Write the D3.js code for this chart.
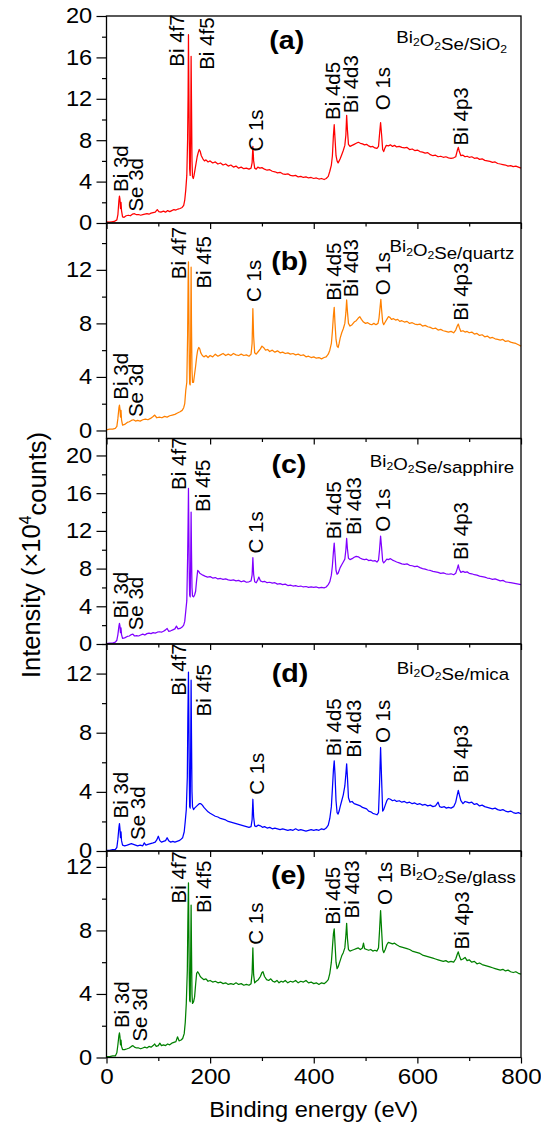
<!DOCTYPE html>
<html>
<head>
<meta charset="utf-8">
<script src="https://cdn.jsdelivr.net/npm/d3@7"></script>
<style>
body { margin: 0; background: #fff; }
text { font-family: "Liberation Sans", Arial, sans-serif; fill: #000; }
</style>
</head>
<body>
<div id="chart"></div>
<script>
// XPS survey spectra of Bi2O2Se grown on five substrates

// x axis (binding energy, eV)
var energyTicks = [0, 200, 400, 600, 800];
var energyMinor = [100, 300, 500, 700];

// one entry per panel
var panelIds = ["(a)", "(b)", "(c)", "(d)", "(e)"];
var substrates = ["Bi_2O_2Se/SiO_2", "Bi_2O_2Se/quartz", "Bi_2O_2Se/sapphire", "Bi_2O_2Se/mica", "Bi_2O_2Se/glass"];
var yMin = [0, -0.6, 0, 0, 0];
var yMax = [20, 15.5, 21.8, 14, 13];
var yMajor = [[0, 4, 8, 12, 16, 20], [0, 4, 8, 12], [0, 4, 8, 12, 16, 20], [0, 4, 8, 12], [0, 4, 8, 12]];
var yMinor = [[2, 6, 10, 14, 18], [2, 6, 10, 14], [2, 6, 10, 14, 18], [2, 6, 10, 14], [2, 6, 10]];

// spectra: [binding energy (eV), intensity (x10^4 counts)]
var spectrumSiO2 = [[0,0.1],[5,0.08],[10,0.12],[15,0.15],[20,0.3],[22,0.8],[24,2.2],[25,2.6],[26,2.3],[27,1.4],[28,2.0],[29,1.2],[31,0.6],[34,0.55],[38,0.7],[42,0.75],[46,0.7],[50,0.85],[54,0.9],[58,0.8],[62,0.82],[66,0.75],[70,0.8],[74,0.85],[78,0.9],[82,0.85],[86,0.95],[90,1.0],[94,1.05],[98,1.3],[101,1.1],[105,1.05],[110,1.15],[114,1.05],[118,1.2],[122,1.1],[126,1.2],[130,1.3],[134,1.25],[138,1.35],[142,1.4],[146,1.5],[149,1.7],[151,2.2],[153,3.2],[155,4.6],[156.5,8],[157.5,12.5],[158.2,18.2],[159,13],[159.8,8],[160.5,5.2],[161.5,4.6],[162.5,8.5],[163.3,16.1],[164,12],[165,6],[166,4.5],[167.5,4.3],[169,4.6],[171,5.2],[173,5.8],[175,6.4],[177,6.8],[179,7.1],[181,6.9],[183,6.5],[186,6.2],[189,6.0],[192,6.1],[196,5.9],[200,6.0],[205,5.8],[210,5.9],[215,5.7],[220,5.8],[225,5.6],[230,5.7],[235,5.5],[240,5.6],[245,5.4],[250,5.5],[255,5.3],[260,5.4],[265,5.25],[270,5.3],[275,5.2],[279,5.3],[281,5.8],[282.5,7.4],[284,6.0],[286,5.3],[289,5.2],[292,5.4],[296,5.3],[300,5.35],[305,5.2],[310,5.1],[315,5.15],[320,5.0],[325,4.95],[330,4.85],[335,4.9],[340,4.75],[345,4.7],[350,4.75],[355,4.6],[360,4.55],[365,4.6],[370,4.45],[375,4.5],[380,4.4],[385,4.45],[390,4.35],[395,4.4],[400,4.3],[405,4.35],[410,4.25],[415,4.3],[420,4.2],[424,4.3],[428,4.5],[431,5.0],[434,5.6],[436,6.5],[438,8.5],[439.5,9.5],[441,8.2],[443,6.5],[445,6.0],[447,5.8],[449,6.0],[451,6.2],[454,6.6],[457,7.0],[460,7.5],[462,8.5],[463.5,10.4],[465,9.0],[467,7.6],[470,7.4],[474,7.5],[478,7.6],[482,7.7],[486,7.8],[490,7.7],[494,7.65],[498,7.55],[502,7.6],[506,7.45],[510,7.35],[514,7.4],[518,7.25],[522,7.2],[525,7.4],[527,8.6],[529,9.7],[531,8.5],[533,7.1],[535,6.9],[537,7.2],[540,7.5],[544,7.45],[548,7.55],[552,7.4],[556,7.5],[560,7.35],[565,7.4],[570,7.3],[575,7.25],[580,7.3],[585,7.1],[590,7.15],[595,7.0],[600,7.05],[605,6.9],[610,6.85],[615,6.75],[620,6.8],[625,6.6],[630,6.5],[635,6.55],[640,6.4],[645,6.45],[650,6.35],[655,6.4],[660,6.3],[665,6.25],[670,6.3],[674,6.4],[677,7.0],[679,7.3],[681,6.9],[684,6.5],[688,6.55],[692,6.4],[696,6.45],[700,6.35],[705,6.4],[710,6.25],[715,6.3],[720,6.15],[725,6.2],[730,6.05],[735,6.0],[740,5.95],[745,5.85],[750,5.9],[755,5.75],[760,5.7],[765,5.65],[770,5.6],[775,5.5],[780,5.55],[785,5.45],[790,5.5],[795,5.4],[800,5.3]];

var spectrumQuartz = [[0,0.05],[6,0.1],[12,0.1],[17,0.15],[20,0.3],[22,0.9],[24,1.7],[25,1.9],[26,1.6],[27,1.0],[28,1.5],[29,0.8],[31,0.4],[35,0.45],[40,0.6],[44,0.65],[48,0.75],[52,0.8],[56,0.7],[60,0.75],[65,0.7],[70,0.8],[75,0.85],[80,0.8],[85,0.9],[90,1.05],[93,1.15],[97,0.95],[102,1.0],[107,0.95],[112,1.05],[117,1.0],[122,1.1],[127,1.15],[132,1.2],[137,1.3],[142,1.4],[146,1.5],[149,1.7],[151,2.0],[153,3.0],[155,3.6],[156.5,7],[157.5,11],[158.2,12.6],[159,9],[159.8,5],[160.5,3.5],[161.5,3.4],[162.5,7],[163.3,12.2],[164,8],[165,4.5],[166,3.6],[168,3.6],[170,4.2],[172,4.8],[174,5.5],[176,6.0],[178,6.2],[180,6.1],[182,5.8],[185,5.6],[188,5.5],[192,5.6],[196,5.45],[200,5.6],[205,5.5],[210,5.7],[215,5.55],[220,5.65],[225,5.75],[230,5.6],[235,5.7],[240,5.6],[245,5.75],[250,5.65],[255,5.6],[260,5.7],[265,5.6],[270,5.65],[275,5.55],[279,5.7],[281,6.5],[282.5,9.1],[284,7.0],[286,5.8],[289,5.7],[293,5.9],[297,6.1],[300,6.3],[303,6.2],[307,6.0],[311,6.05],[315,5.9],[320,6.0],[325,5.85],[330,5.95],[335,5.8],[340,5.85],[345,5.75],[350,5.8],[355,5.7],[360,5.75],[365,5.65],[370,5.7],[375,5.6],[380,5.65],[385,5.5],[390,5.55],[395,5.45],[400,5.5],[405,5.4],[410,5.45],[415,5.35],[420,5.45],[424,5.5],[428,5.7],[431,6.0],[434,6.5],[436,7.4],[438,8.6],[439.5,9.2],[441,8.0],[443,6.8],[445,6.3],[447,6.2],[449,6.5],[451,6.9],[454,7.3],[457,7.6],[460,8.0],[462,8.8],[463.5,9.75],[465,8.9],[467,8.0],[470,7.8],[474,7.9],[478,8.1],[482,8.2],[486,8.4],[489,8.5],[492,8.3],[496,8.1],[500,8.0],[504,8.05],[508,7.95],[512,7.9],[516,8.0],[520,7.9],[524,8.0],[526,8.4],[528,9.2],[529.5,9.8],[531,9.0],[533,8.1],[535,7.9],[538,8.1],[541,8.3],[544,8.5],[547,8.45],[550,8.3],[554,8.35],[558,8.25],[562,8.3],[566,8.15],[570,8.2],[575,8.1],[580,8.15],[585,8.0],[590,8.05],[595,7.95],[600,7.9],[605,7.95],[610,7.8],[615,7.85],[620,7.75],[625,7.7],[630,7.6],[635,7.65],[640,7.5],[645,7.55],[650,7.45],[655,7.4],[660,7.35],[665,7.4],[670,7.3],[674,7.5],[677,7.8],[679,7.95],[681,7.7],[684,7.4],[688,7.45],[692,7.35],[696,7.4],[700,7.3],[705,7.35],[710,7.2],[715,7.25],[720,7.1],[725,7.15],[730,7.0],[735,7.05],[740,6.9],[745,6.95],[750,6.85],[755,6.8],[760,6.75],[765,6.8],[770,6.65],[775,6.7],[780,6.6],[785,6.55],[790,6.5],[795,6.4],[800,6.3]];

var spectrumSapphire = [[0,0.05],[6,0.1],[12,0.1],[17,0.2],[20,0.4],[22,1.0],[24,1.9],[25,2.2],[26,1.9],[27,1.2],[28,1.7],[29,1.0],[31,0.6],[35,0.65],[40,0.8],[44,0.85],[48,1.0],[51,1.05],[54,0.85],[58,0.9],[62,0.85],[66,0.95],[70,1.05],[74,0.95],[78,1.1],[82,1.15],[86,1.1],[90,1.2],[94,1.15],[98,1.25],[102,1.3],[106,1.25],[110,1.35],[114,1.5],[117,1.65],[120,1.35],[124,1.4],[128,1.5],[132,1.6],[135,1.9],[138,1.6],[142,1.65],[146,1.8],[149,2.0],[151,2.4],[153,3.5],[155,4.6],[156.5,9],[157.5,13],[158.2,16.5],[159,12],[159.8,7],[160.5,5.2],[161.5,5.0],[162.5,9],[163.3,14.0],[164,10],[165,6],[166,5.1],[168,5.0],[170,5.2],[172,5.6],[174,6.8],[176,7.8],[178,7.7],[180,7.5],[183,7.4],[186,7.3],[190,7.2],[195,7.1],[200,7.15],[205,7.0],[210,7.05],[215,6.9],[220,6.95],[225,6.85],[230,6.9],[235,6.8],[240,6.75],[245,6.8],[250,6.7],[255,6.75],[260,6.6],[265,6.7],[270,6.55],[275,6.6],[279,6.7],[281,7.3],[282.5,9.15],[284,7.4],[286,6.6],[289,6.5],[292,6.8],[294,7.1],[297,6.7],[301,6.6],[305,6.65],[310,6.5],[315,6.55],[320,6.45],[325,6.5],[330,6.35],[335,6.4],[340,6.3],[345,6.35],[350,6.2],[355,6.25],[360,6.15],[365,6.2],[370,6.1],[375,6.15],[380,6.05],[385,6.1],[390,6.0],[395,6.05],[400,6.0],[405,6.05],[410,5.95],[415,6.0],[420,5.95],[424,6.05],[428,6.3],[431,6.6],[434,7.3],[436,8.3],[438,9.8],[439.5,10.7],[441,9.5],[443,7.8],[445,7.4],[447,7.5],[449,7.8],[451,8.1],[454,8.4],[457,8.7],[460,9.0],[462,10.0],[463.5,11.2],[465,10.1],[467,9.1],[470,8.95],[474,9.05],[478,9.2],[482,9.3],[486,9.25],[490,9.1],[494,9.0],[498,8.95],[502,9.0],[506,8.85],[510,8.9],[514,8.8],[518,8.85],[522,8.7],[525,8.9],[527,10.0],[529,11.45],[531,10.2],[533,8.8],[535,8.6],[538,8.8],[541,9.0],[544,8.95],[548,9.05],[552,8.9],[556,8.8],[560,8.7],[565,8.6],[570,8.5],[575,8.45],[580,8.5],[585,8.35],[590,8.3],[595,8.2],[600,8.25],[605,8.1],[610,8.0],[615,7.95],[620,7.85],[625,7.8],[630,7.7],[635,7.65],[640,7.6],[645,7.5],[650,7.55],[655,7.45],[660,7.4],[665,7.45],[670,7.35],[674,7.5],[677,8.0],[679,8.4],[681,7.9],[684,7.6],[688,7.7],[692,7.6],[696,7.65],[700,7.5],[705,7.45],[710,7.35],[715,7.3],[720,7.2],[725,7.15],[730,7.1],[735,7.0],[740,6.95],[745,6.85],[750,6.9],[755,6.8],[760,6.7],[765,6.75],[770,6.6],[775,6.55],[780,6.5],[785,6.45],[790,6.4],[795,6.35],[800,6.3]];

var spectrumMica = [[0,0.05],[6,0.05],[12,0.1],[17,0.1],[20,0.25],[22,0.8],[24,1.6],[25,1.85],[26,1.5],[27,0.9],[28,1.3],[29,0.7],[31,0.4],[35,0.35],[40,0.4],[44,0.45],[48,0.5],[52,0.45],[56,0.4],[60,0.35],[65,0.4],[70,0.35],[73,0.55],[76,0.4],[80,0.45],[85,0.5],[90,0.55],[94,0.6],[97,0.75],[100,1.0],[103,0.7],[106,0.6],[110,0.65],[114,0.7],[117,0.9],[120,0.7],[124,0.6],[128,0.65],[132,0.6],[136,0.65],[140,0.7],[144,0.8],[147,0.9],[150,1.3],[152,2.0],[154,2.8],[156,5],[157,9],[158.2,12.1],[159,9],[159.8,5],[160.5,3.0],[161.5,2.9],[162.5,7],[163.3,11.55],[164,8],[165,4],[166,3.0],[168,2.8],[170,2.9],[173,3.0],[176,3.1],[179,3.2],[182,3.2],[185,3.1],[188,2.95],[192,2.8],[196,2.65],[200,2.55],[205,2.45],[210,2.35],[215,2.3],[220,2.2],[225,2.15],[230,2.1],[235,2.0],[240,1.95],[245,1.9],[250,1.85],[255,1.8],[260,1.75],[265,1.7],[270,1.65],[275,1.6],[279,1.65],[281,2.1],[282.5,3.5],[284,2.3],[286,1.7],[289,1.65],[293,1.75],[297,1.7],[301,1.6],[305,1.65],[310,1.55],[315,1.6],[320,1.5],[325,1.55],[330,1.5],[335,1.45],[340,1.5],[345,1.45],[350,1.4],[355,1.45],[360,1.4],[365,1.5],[370,1.4],[375,1.45],[380,1.4],[385,1.35],[390,1.4],[395,1.45],[400,1.4],[405,1.45],[410,1.4],[415,1.5],[420,1.45],[424,1.55],[428,1.75],[431,2.2],[434,3.0],[436,4.2],[438,5.5],[439.5,6.1],[441,5.2],[443,3.4],[445,2.6],[447,2.5],[449,2.7],[451,3.0],[454,3.4],[457,3.8],[460,4.4],[462,5.2],[463.5,5.9],[465,5.0],[467,3.6],[470,3.3],[474,3.35],[478,3.2],[482,3.15],[486,3.1],[490,3.05],[494,2.95],[498,2.9],[502,2.85],[506,2.7],[510,2.65],[514,2.55],[518,2.5],[522,2.45],[525,2.6],[527,4.5],[529,7.0],[531,4.8],[533,2.7],[535,2.8],[538,3.1],[541,3.4],[544,3.55],[548,3.5],[552,3.4],[556,3.45],[560,3.35],[565,3.4],[570,3.3],[575,3.35],[580,3.25],[585,3.3],[590,3.2],[595,3.25],[600,3.15],[605,3.2],[610,3.1],[615,3.15],[620,3.05],[625,3.1],[630,3.0],[635,3.05],[640,3.3],[643,3.0],[647,2.95],[652,3.0],[656,2.9],[660,2.95],[665,2.9],[670,3.0],[674,3.3],[677,3.8],[679,4.1],[681,3.8],[684,3.4],[688,3.2],[692,3.35],[696,3.3],[700,3.25],[705,3.3],[710,3.15],[715,3.2],[720,3.05],[725,3.1],[730,3.0],[735,2.95],[740,2.9],[745,2.85],[750,2.9],[755,2.8],[760,2.75],[765,2.8],[770,2.7],[775,2.65],[780,2.7],[785,2.6],[790,2.55],[795,2.6],[800,2.5]];

var spectrumGlass = [[0,0.05],[6,0.05],[12,0.1],[17,0.1],[20,0.3],[22,0.8],[24,1.4],[25,1.55],[26,1.3],[27,0.8],[28,1.1],[29,0.7],[31,0.5],[35,0.5],[40,0.55],[44,0.6],[48,0.7],[51,0.75],[54,0.65],[58,0.6],[62,0.6],[66,0.55],[70,0.6],[74,0.65],[78,0.6],[82,0.7],[86,0.65],[90,0.75],[93,0.85],[96,0.7],[100,0.75],[103,0.9],[106,0.75],[110,0.8],[114,0.75],[118,0.85],[122,0.8],[126,0.9],[130,0.95],[134,1.0],[137,1.3],[140,1.05],[144,1.1],[147,1.2],[150,1.5],[152,2.2],[154,3.4],[156,5.5],[157,8.5],[158.2,11.0],[159,8],[159.8,5],[160.5,3.6],[161.5,3.5],[162.5,6.5],[163.3,9.6],[164,7],[165,4],[166,3.4],[168,3.5],[170,3.8],[172,4.6],[174,5.3],[176,5.4],[178,5.3],[181,5.1],[184,5.0],[188,4.9],[192,4.95],[196,4.8],[200,4.85],[205,4.75],[210,4.8],[215,4.7],[220,4.75],[225,4.65],[230,4.7],[235,4.6],[240,4.65],[245,4.6],[250,4.7],[255,4.6],[260,4.65],[265,4.55],[270,4.6],[275,4.55],[279,4.65],[281,5.3],[282.5,6.9],[284,5.2],[286,4.7],[289,4.8],[293,4.9],[297,5.1],[300,5.35],[302,5.4],[305,5.1],[309,4.9],[313,4.85],[317,4.95],[321,4.8],[325,4.75],[329,4.85],[333,4.7],[337,4.8],[341,4.75],[345,4.85],[350,4.7],[355,4.8],[360,4.75],[365,4.85],[370,4.7],[375,4.8],[380,4.75],[385,4.85],[390,4.7],[395,4.75],[400,4.65],[405,4.7],[410,4.6],[415,4.7],[420,4.65],[424,4.75],[428,4.9],[431,5.3],[434,6.0],[436,6.9],[438,7.8],[439.5,8.1],[441,7.2],[443,6.0],[445,5.6],[447,5.7],[449,5.9],[451,6.1],[454,6.4],[457,6.6],[460,6.9],[462,7.7],[463.5,8.45],[465,7.5],[467,6.8],[470,6.7],[474,6.75],[478,6.8],[482,6.85],[486,6.9],[490,6.8],[494,6.9],[496,7.2],[498,6.85],[502,6.8],[506,6.75],[510,6.8],[514,6.7],[518,6.75],[522,6.7],[525,6.9],[527,8.0],[529,9.25],[531,8.0],[533,6.8],[535,6.6],[538,6.8],[541,7.1],[544,7.25],[548,7.2],[552,7.15],[556,7.2],[560,7.1],[565,7.0],[570,6.95],[575,6.9],[580,6.85],[585,6.8],[590,6.7],[595,6.65],[600,6.6],[605,6.55],[610,6.45],[615,6.4],[620,6.35],[625,6.3],[630,6.25],[635,6.2],[640,6.15],[645,6.1],[650,6.05],[655,6.1],[660,6.0],[665,6.05],[670,6.0],[674,6.2],[677,6.5],[679,6.65],[681,6.4],[684,6.15],[688,6.2],[692,6.3],[696,6.1],[700,6.15],[705,6.0],[710,6.05],[715,5.9],[720,5.95],[725,5.85],[730,5.8],[735,5.75],[740,5.7],[745,5.65],[750,5.6],[755,5.55],[760,5.5],[765,5.55],[770,5.45],[775,5.5],[780,5.4],[785,5.35],[790,5.4],[795,5.3],[800,5.25]];

var spectra = [spectrumSiO2, spectrumQuartz, spectrumSapphire, spectrumMica, spectrumGlass];

// peak labels, and where each one starts: [energy, intensity] per panel
var peakNames = ["Bi 3d", "Se 3d", "Bi 4f7", "Bi 4f5", "C 1s", "Bi 4d5", "Bi 4d3", "O 1s", "Bi 4p3"];
var peakSpotsA = [[27,3.0],[57,1.1],[135,15.1],[193,14.8],[287,6.9],[437,9.95],[472,10.6],[533,10.9],[683,7.5]];
var peakSpotsB = [[27,2.3],[57,1.0],[140,11.3],[187,10.6],[283,9.6],[439,9.7],[472,9.95],[533,10.1],[683,8.2]];
var peakSpotsC = [[27,2.7],[57,1.45],[140,16.35],[185,14.0],[287,9.6],[439,11.1],[477,11.55],[533,11.9],[683,8.9]];
var peakSpotsD = [[27,2.2],[60,0.75],[140,10.5],[187,9.1],[290,3.8],[439,6.4],[477,6.3],[533,7.3],[683,4.6]];
var peakSpotsE = [[30,1.85],[63,1.0],[140,9.7],[187,9.1],[287,7.1],[437,8.35],[473,8.75],[537,9.6],[685,6.8]];
var peakSpots = [peakSpotsA, peakSpotsB, peakSpotsC, peakSpotsD, peakSpotsE];

// panel letter [energy, intensity] and substrate note [right end energy, intensity]
var letterSpots = [[348,16.8],[353,12.0],[352,18.1],[354,11.4],[351,10.95]];
var noteSpots = [[773,17.4],[787,13.3],[787,18.8],[777,12.0],[790,11.4]];

var lineColors = ["#ff0000", "#ff8000", "#8000ff", "#0000ff", "#008000"];

// layout
var W = 541, H = 1129;
var plotLeft = 106.5, plotRight = 521;
var panelTop = [16, 223, 438.5, 644, 851];
var panelBottom = [223, 438.5, 644, 851, 1057.5];
var stretch = "scale(1.1,1)";   // the source figure is a bit wider than tall

var svg = d3.select("#chart").append("svg")
  .attr("width", W)
  .attr("height", H);

var x = d3.scaleLinear().domain([0, 800]).range([plotLeft, plotRight]);

var line = d3.line();

// write "Bi_2O_2Se" style text, _ puts the next character in subscript
function subText(sel, str) {
  var parts = str.split(/(_.)/).filter(function(p) { return p.length; });
  parts.forEach(function(p) {
    if (p[0] === "_") {
      sel.append("tspan").attr("font-size", "0.65em").attr("dy", "0.3em").text(p[1]);
      sel.append("tspan").attr("dy", "-0.3em").text("");
    } else {
      sel.append("tspan").text(p);
    }
  });
}

spectra.forEach(function(spec, i) {
  var y = d3.scaleLinear().domain([yMin[i], yMax[i]]).range([panelBottom[i], panelTop[i]]);
  var g = svg.append("g");
  var isLast = i === spectra.length - 1;

  // y axis: major + minor ticks
  var yAx = g.append("g")
    .attr("transform", "translate(" + plotLeft + ",0)")
    .call(d3.axisLeft(y).tickValues(yMajor[i]).tickSize(10).tickPadding(3).tickFormat(d3.format("d")));
  yAx.select(".domain").remove();
  yAx.selectAll("text").style("font-size", "21.5px").attr("font-family", null).attr("transform", stretch);
  yAx.selectAll("line").attr("stroke-width", 1.2);

  var yMin2 = g.append("g")
    .attr("transform", "translate(" + plotLeft + ",0)")
    .call(d3.axisLeft(y).tickValues(yMinor[i]).tickSize(4.5).tickFormat(""));
  yMin2.select(".domain").remove();
  yMin2.selectAll("line").attr("stroke-width", 1.2);

  // x axis: major + minor ticks, labels only at the bottom
  var xAx = g.append("g")
    .attr("transform", "translate(0," + panelBottom[i] + ")")
    .call(d3.axisBottom(x).tickValues(energyTicks).tickSize(6).tickPadding(5)
      .tickFormat(isLast ? d3.format("d") : ""));
  xAx.select(".domain").remove();
  xAx.selectAll("text").style("font-size", "22px").attr("font-family", null).attr("transform", stretch);
  xAx.selectAll("line").attr("stroke-width", 1.2);

  var xMin = g.append("g")
    .attr("transform", "translate(0," + panelBottom[i] + ")")
    .call(d3.axisBottom(x).tickValues(energyMinor).tickSize(3.5).tickFormat(""));
  xMin.select(".domain").remove();
  xMin.selectAll("line").attr("stroke-width", 1.2);

  // the spectrum
  line.x(function(d) { return x(d[0]); }).y(function(d) { return y(d[1]); });
  g.append("path")
    .datum(spec)
    .attr("fill", "none")
    .attr("stroke", lineColors[i])
    .attr("stroke-width", 1.25)
    .attr("stroke-linejoin", "round")
    .attr("d", line);

  // frame
  g.append("rect")
    .attr("x", plotLeft)
    .attr("y", panelTop[i])
    .attr("width", plotRight - plotLeft)
    .attr("height", panelBottom[i] - panelTop[i])
    .attr("fill", "none")
    .attr("stroke", "#000")
    .attr("stroke-width", 1.3);

  // peak labels
  peakSpots[i].forEach(function(p, k) {
    g.append("text")
      .attr("transform", "translate(" + x(p[0]) + "," + y(p[1]) + ") rotate(-90)")
      .attr("dy", "0.36em")
      .style("font-size", "20.5px")
      .text(peakNames[k]);
  });

  // panel letter
  g.append("text")
    .attr("transform", "translate(" + x(letterSpots[i][0]) + "," + y(letterSpots[i][1]) + ") " + stretch)
    .attr("text-anchor", "middle")
    .style("font-size", "26px")
    .style("font-weight", "bold")
    .text(panelIds[i]);

  // substrate
  var note = g.append("text")
    .attr("transform", "translate(" + x(noteSpots[i][0]) + "," + y(noteSpots[i][1]) + ") " + stretch)
    .attr("text-anchor", "end")
    .style("font-size", "17px");
  subText(note, substrates[i]);
});

// axis titles
svg.append("text")
  .attr("transform", "translate(" + ((plotLeft + plotRight) / 2) + ",1117) " + stretch)
  .attr("text-anchor", "middle")
  .style("font-size", "21.5px")
  .text("Binding energy (eV)");

var yTitle = svg.append("text")
  .attr("transform", "translate(40,555) rotate(-90)")
  .attr("text-anchor", "middle")
  .style("font-size", "25.5px");
yTitle.append("tspan").text("Intensity (\u00d710");
yTitle.append("tspan").attr("font-size", "0.62em").attr("dy", "-0.6em").text("4");
yTitle.append("tspan").attr("dy", "0.6em").text("counts)");
</script>
</body>
</html>
